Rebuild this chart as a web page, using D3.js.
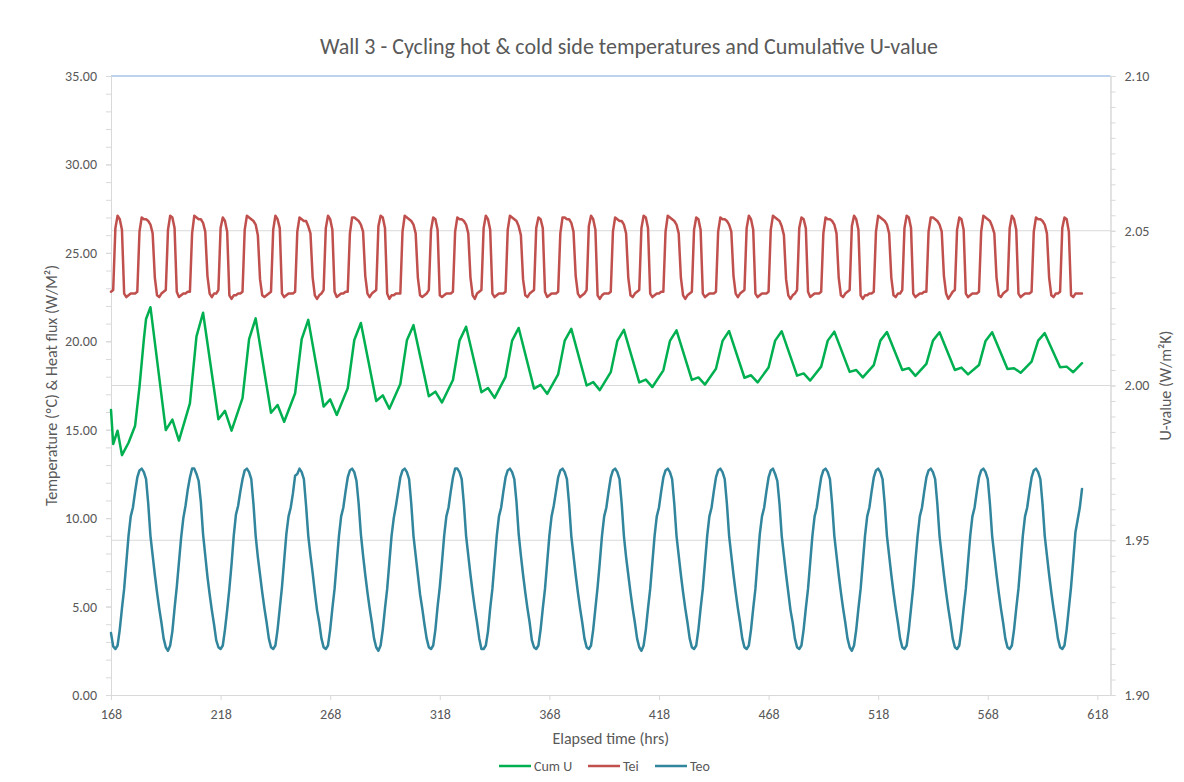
<!DOCTYPE html>
<html>
<head>
<meta charset="utf-8">
<script src="https://cdn.jsdelivr.net/npm/d3@7/dist/d3.min.js"></script>
<style>
  body { margin: 0; background: #fff; }
  svg text { font-family: Calibri, Carlito, Lato, "Liberation Sans", sans-serif; fill: #595959; }
</style>
</head>
<body>
<svg id="chart" width="1184" height="782"></svg>
<script>
// hourly samples, 168 .. 611 hrs
const hours = d3.range(168, 612);

// inside surface temperature (ºC), one row per day starting 168, 192, ...
const tei = [
  22.8, 22.9, 26.4, 27.1, 26.9, 26.3, 22.7, 22.5, 22.6, 22.7, 22.7, 22.7, 22.8, 26.2, 27.0, 26.9, 26.9, 26.8, 26.6, 26.1, 23.6, 22.6, 22.5, 22.7,
  22.8, 22.9, 26.3, 27.1, 27.0, 26.4, 22.8, 22.5, 22.6, 22.7, 22.7, 22.8, 22.8, 26.1, 27.1, 27.0, 26.9, 26.9, 26.7, 26.2, 23.7, 22.7, 22.5, 22.7,
  22.7, 22.9, 26.4, 27.0, 26.8, 26.2, 22.6, 22.4, 22.6, 22.6, 22.7, 22.7, 22.8, 26.3, 27.1, 27.0, 26.9, 26.8, 26.6, 26.0, 23.5, 22.6, 22.5, 22.6,
  22.7, 22.8, 26.3, 27.1, 26.9, 26.4, 22.7, 22.5, 22.6, 22.7, 22.7, 22.7, 22.8, 26.2, 27.0, 26.9, 26.8, 26.8, 26.5, 26.1, 23.6, 22.6, 22.4, 22.6,
  22.7, 22.9, 26.4, 27.1, 26.9, 26.3, 22.8, 22.5, 22.6, 22.7, 22.7, 22.8, 22.8, 26.1, 27.0, 27.0, 26.9, 26.8, 26.6, 26.2, 23.7, 22.7, 22.5, 22.7,
  22.8, 22.9, 26.5, 27.1, 27.0, 26.4, 22.7, 22.4, 22.6, 22.6, 22.7, 22.7, 22.7, 26.2, 27.1, 27.0, 26.9, 26.8, 26.6, 26.1, 23.6, 22.6, 22.5, 22.6,
  22.7, 22.9, 26.3, 27.0, 26.9, 26.3, 22.6, 22.5, 22.6, 22.7, 22.7, 22.7, 22.8, 26.2, 27.0, 26.9, 26.9, 26.8, 26.6, 26.1, 23.6, 22.6, 22.4, 22.7,
  22.8, 22.9, 26.4, 27.1, 26.9, 26.3, 22.7, 22.5, 22.6, 22.7, 22.7, 22.7, 22.8, 26.3, 27.1, 27.0, 26.9, 26.8, 26.5, 26.0, 23.5, 22.6, 22.5, 22.7,
  22.8, 22.9, 26.4, 27.0, 26.9, 26.4, 22.8, 22.5, 22.6, 22.7, 22.7, 22.7, 22.8, 26.1, 27.0, 27.0, 26.9, 26.9, 26.7, 26.2, 23.7, 22.7, 22.5, 22.6,
  22.7, 22.9, 26.5, 27.1, 26.9, 26.3, 22.6, 22.4, 22.6, 22.7, 22.7, 22.7, 22.8, 26.2, 27.0, 26.9, 26.8, 26.8, 26.6, 26.1, 23.6, 22.6, 22.5, 22.7,
  22.8, 22.9, 26.4, 27.1, 27.0, 26.4, 22.7, 22.5, 22.6, 22.7, 22.7, 22.8, 22.8, 26.2, 27.1, 27.0, 26.9, 26.8, 26.6, 26.1, 23.6, 22.6, 22.4, 22.6,
  22.7, 22.8, 26.3, 27.0, 26.9, 26.3, 22.7, 22.5, 22.6, 22.7, 22.7, 22.7, 22.8, 26.2, 27.0, 26.9, 26.9, 26.8, 26.6, 26.2, 23.7, 22.7, 22.5, 22.7,
  22.8, 22.9, 26.4, 27.1, 26.9, 26.3, 22.7, 22.5, 22.6, 22.7, 22.7, 22.7, 22.8, 26.3, 27.1, 27.0, 26.9, 26.8, 26.5, 26.0, 23.5, 22.6, 22.4, 22.6,
  22.7, 22.9, 26.4, 27.0, 26.9, 26.4, 22.8, 22.5, 22.6, 22.7, 22.7, 22.7, 22.8, 26.1, 27.0, 26.9, 26.9, 26.8, 26.6, 26.1, 23.6, 22.6, 22.5, 22.7,
  22.8, 22.9, 26.5, 27.1, 26.9, 26.3, 22.6, 22.4, 22.6, 22.6, 22.7, 22.7, 22.8, 26.2, 27.1, 27.0, 26.9, 26.8, 26.6, 26.1, 23.6, 22.6, 22.5, 22.7,
  22.7, 22.9, 26.4, 27.1, 27.0, 26.4, 22.7, 22.5, 22.6, 22.7, 22.7, 22.8, 22.8, 26.2, 27.0, 27.0, 26.9, 26.8, 26.6, 26.2, 23.7, 22.7, 22.4, 22.6,
  22.8, 22.9, 26.3, 27.0, 26.9, 26.3, 22.7, 22.5, 22.6, 22.7, 22.7, 22.7, 22.8, 26.2, 27.1, 27.0, 26.9, 26.8, 26.5, 26.1, 23.6, 22.6, 22.5, 22.7,
  22.8, 22.9, 26.4, 27.1, 26.9, 26.3, 22.7, 22.5, 22.6, 22.7, 22.7, 22.7, 22.8, 26.2, 27.0, 26.9, 26.9, 26.8, 26.6, 26.1, 23.6, 22.6, 22.5, 22.7,
  22.7, 22.8, 26.4, 27.0, 26.9, 26.2, 22.6, 22.5, 22.7, 22.7, 22.7, 22.7
];

// outside surface temperature (ºC): 168, 169, then one row per cycle from 170, 194, ...
const teo = [
  3.5, 2.75,
  2.6, 2.8, 3.7, 4.9, 6.0, 7.5, 9.0, 10.1, 10.6, 11.5, 12.3, 12.7, 12.8, 12.6, 12.2, 10.8, 9.0, 7.9, 6.8, 5.8, 4.9, 4.1, 3.2, 2.7,
  2.5, 2.8, 3.6, 4.9, 6.1, 7.5, 8.9, 10.0, 10.7, 11.6, 12.3, 12.8, 12.8, 12.5, 12.1, 10.9, 9.1, 7.9, 6.7, 5.7, 4.8, 4.0, 3.1, 2.7,
  2.6, 2.8, 3.7, 4.8, 6.0, 7.4, 9.0, 10.2, 10.7, 11.5, 12.2, 12.7, 12.8, 12.6, 12.2, 10.8, 9.0, 7.8, 6.8, 5.8, 4.9, 4.1, 3.2, 2.7,
  2.6, 2.8, 3.7, 4.9, 6.1, 7.6, 9.1, 10.1, 10.6, 11.4, 12.4, 12.5, 12.8, 12.6, 12.2, 10.7, 9.0, 7.9, 6.9, 5.8, 4.8, 4.1, 3.2, 2.7,
  2.6, 2.8, 3.7, 4.9, 6.0, 7.5, 9.0, 10.1, 10.6, 11.5, 12.3, 12.7, 12.8, 12.6, 12.1, 10.8, 9.1, 7.9, 6.8, 5.8, 4.9, 4.1, 3.2, 2.7,
  2.5, 2.8, 3.7, 4.9, 6.0, 7.5, 9.0, 10.0, 10.7, 11.5, 12.3, 12.7, 12.8, 12.6, 12.2, 10.8, 9.0, 7.9, 6.8, 5.7, 4.9, 4.0, 3.2, 2.7,
  2.6, 2.8, 3.7, 5.0, 6.1, 7.5, 9.0, 10.1, 10.6, 11.5, 12.3, 12.8, 12.8, 12.6, 12.2, 10.8, 9.0, 7.9, 6.8, 5.8, 4.9, 4.1, 3.2, 2.6,
  2.6, 2.8, 3.6, 4.9, 6.0, 7.5, 9.0, 10.1, 10.6, 11.5, 12.3, 12.7, 12.8, 12.6, 12.2, 10.9, 9.1, 7.9, 6.8, 5.8, 4.9, 4.1, 3.1, 2.7,
  2.6, 2.8, 3.7, 4.9, 6.0, 7.5, 9.0, 10.1, 10.7, 11.5, 12.3, 12.7, 12.8, 12.6, 12.2, 10.8, 9.0, 7.9, 6.8, 5.8, 4.9, 4.1, 3.2, 2.7,
  2.6, 2.8, 3.7, 4.9, 6.1, 7.5, 9.0, 10.1, 10.6, 11.5, 12.3, 12.7, 12.8, 12.6, 12.2, 10.8, 9.0, 7.8, 6.8, 5.8, 4.9, 4.1, 3.2, 2.7,
  2.5, 2.8, 3.7, 4.9, 6.0, 7.5, 9.0, 10.1, 10.6, 11.5, 12.3, 12.7, 12.8, 12.6, 12.2, 10.8, 9.0, 7.9, 6.8, 5.8, 4.9, 4.1, 3.2, 2.7,
  2.6, 2.8, 3.7, 4.9, 6.0, 7.5, 9.0, 10.1, 10.6, 11.5, 12.3, 12.7, 12.8, 12.6, 12.2, 10.8, 9.0, 7.9, 6.8, 5.8, 4.9, 4.1, 3.2, 2.7,
  2.6, 2.8, 3.7, 4.9, 6.0, 7.6, 9.1, 10.1, 10.6, 11.5, 12.3, 12.7, 12.8, 12.5, 12.1, 10.8, 9.0, 7.9, 6.8, 5.8, 4.8, 4.1, 3.2, 2.7,
  2.6, 2.8, 3.7, 4.9, 6.0, 7.5, 9.0, 10.1, 10.6, 11.5, 12.3, 12.7, 12.8, 12.6, 12.2, 10.8, 9.0, 7.9, 6.8, 5.8, 4.9, 4.1, 3.2, 2.7,
  2.5, 2.8, 3.7, 4.9, 6.0, 7.5, 9.0, 10.1, 10.6, 11.5, 12.3, 12.7, 12.8, 12.6, 12.2, 10.8, 9.0, 7.9, 6.8, 5.8, 4.9, 4.1, 3.2, 2.7,
  2.6, 2.8, 3.7, 4.9, 6.1, 7.6, 9.0, 10.1, 10.6, 11.5, 12.3, 12.7, 12.8, 12.6, 12.2, 10.8, 9.0, 7.9, 6.8, 5.8, 4.9, 4.1, 3.2, 2.7,
  2.6, 2.8, 3.7, 4.9, 6.0, 7.5, 9.0, 10.1, 10.6, 11.5, 12.3, 12.7, 12.8, 12.6, 12.2, 10.8, 9.0, 7.9, 6.8, 5.8, 4.9, 4.1, 3.2, 2.7,
  2.6, 2.8, 3.7, 4.9, 6.0, 7.5, 9.0, 10.1, 10.6, 11.5, 12.3, 12.7, 12.8, 12.6, 12.2, 10.8, 9.0, 7.9, 6.8, 5.8, 4.9, 4.1, 3.2, 2.7,
  2.6, 2.8, 3.7, 4.9, 6.1, 7.6, 9.2, 9.9, 10.6, 11.65
];

// cumulative U-value (W/m²K), read at the turning points of the curve
const cumUHours = [
  168, 169, 171, 173, 176, 179, 181, 183, 184,
  186, 193, 196, 199, 204, 207,
  210, 217, 220, 223, 228, 231,
  234, 241, 244, 247, 252, 255,
  258, 265, 268, 271, 276, 279,
  282, 289, 292, 295, 300, 303,
  306, 313, 316, 319, 324, 327,
  330, 337, 340, 343, 348, 351,
  354, 361, 364, 367, 372, 375,
  378, 385, 388, 391, 396, 399,
  402, 409, 412, 415, 420, 423,
  426, 433, 436, 439, 444, 447,
  450, 457, 460, 463, 468, 471,
  474, 481, 484, 487, 492, 495,
  498, 505, 508, 511, 516, 519,
  522, 529, 532, 535, 540, 543,
  546, 553, 556, 559, 564, 567,
  570, 577, 580, 583, 588, 591,
  594, 601, 604, 607, 611
];
const cumU = [
  1.9921, 1.9811, 1.9854, 1.9775, 1.9815, 1.9870, 1.9996, 2.0150, 2.0215,
  2.0253, 1.9856, 1.9890, 1.9822, 1.9942, 2.0159,
  2.0235, 1.9891, 1.9918, 1.9854, 1.9959, 2.0150,
  2.0217, 1.9912, 1.9937, 1.9883, 1.9975, 2.0150,
  2.0212, 1.9932, 1.9955, 1.9905, 1.9991, 2.0147,
  2.0202, 1.9950, 1.9968, 1.9925, 2.0005, 2.0146,
  2.0195, 1.9965, 1.9980, 1.9945, 2.0018, 2.0145,
  2.0190, 1.9978, 1.9992, 1.9960, 2.0028, 2.0145,
  2.0186, 1.9990, 2.0002, 1.9973, 2.0036, 2.0145,
  2.0183, 2.0000, 2.0011, 1.9985, 2.0043, 2.0144,
  2.0180, 2.0010, 2.0019, 1.9995, 2.0049, 2.0144,
  2.0178, 2.0018, 2.0026, 2.0003, 2.0054, 2.0144,
  2.0176, 2.0025, 2.0033, 2.0010, 2.0058, 2.0145,
  2.0175, 2.0032, 2.0039, 2.0016, 2.0061, 2.0145,
  2.0174, 2.0044, 2.0050, 2.0026, 2.0066, 2.0145,
  2.0173, 2.0050, 2.0056, 2.0031, 2.0070, 2.0145,
  2.0172, 2.0050, 2.0058, 2.0036, 2.0066, 2.0144,
  2.0172, 2.0053, 2.0056, 2.0041, 2.0077, 2.0145,
  2.0169, 2.0059, 2.0061, 2.0043, 2.0072
];

const xTicks = [168, 218, 268, 318, 368, 418, 468, 518, 568, 618];
const leftTicks = [0, 5, 10, 15, 20, 25, 30, 35];
const rightTicks = [1.90, 1.95, 2.00, 2.05, 2.10];

const legendItems = [
  { name: 'Cum U', color: '#00b050' },
  { name: 'Tei', color: '#c0504d' },
  { name: 'Teo', color: '#31859c' }
];

const svg = d3.select('svg#chart'),
    plotLeft = 111,
    plotRight = 1110.5,
    plotTop = 76,
    plotBottom = 695,
    axisColor = '#d9d9d9',
    lineWidth = 2.5,
    tickFont = '14px',
    titleFont = '16px';

const x = d3.scaleLinear().domain([168, 624]).range([plotLeft, plotRight]);
const yLeft = d3.scaleLinear().domain([0, 35]).range([plotBottom, plotTop]);
const yRight = d3.scaleLinear().domain([1.9, 2.1]).range([plotBottom, plotTop]);

svg.append('rect')
    .attr('width', 1184).attr('height', 782)
    .attr('fill', '#fff');

drawGrid();
drawAxes();
drawLines();
drawTitles();
drawLegend();

/**
 * Gridlines of the secondary axis
 */
function drawGrid() {
    svg.append('g').selectAll('line')
        .data([1.95, 2.00, 2.05])
        .join('line')
        .attr('x1', plotLeft).attr('x2', plotRight)
        .attr('y1', d => yRight(d)).attr('y2', d => yRight(d))
        .attr('stroke', axisColor)
        .attr('stroke-width', 1);

    // top border line
    svg.append('line')
        .attr('x1', plotLeft).attr('x2', plotRight)
        .attr('y1', yRight(2.1)).attr('y2', yRight(2.1))
        .attr('stroke', '#7aa5dc')
        .attr('stroke-width', 1);
}

function styleAxis(g) {
    g.selectAll('.domain').attr('stroke', axisColor);
    g.selectAll('.tick line').attr('stroke', axisColor);
    g.selectAll('.tick text')
        .attr('fill', '#595959')
        .style('font-size', tickFont);
}

/**
 * Draw Axes
 */
function drawAxes() {
    // left minor ticks
    svg.append('g')
        .attr('transform', `translate(${plotLeft},0)`)
        .call(d3.axisLeft(yLeft).tickValues(d3.range(0, 36, 1)).tickSize(5).tickFormat('').tickSizeOuter(0))
        .call(styleAxis);
    svg.append('g')
        .attr('transform', `translate(${plotLeft},0)`)
        .call(d3.axisLeft(yLeft).tickValues(leftTicks).tickSize(5).tickPadding(9).tickFormat(d3.format('.2f')).tickSizeOuter(0))
        .call(styleAxis);

    // right minor ticks
    svg.append('g')
        .attr('transform', `translate(${plotRight},0)`)
        .call(d3.axisRight(yRight).tickValues(d3.range(0, 41).map(i => 1.9 + i * 0.005)).tickSize(5).tickFormat('').tickSizeOuter(0))
        .call(styleAxis);
    svg.append('g')
        .attr('transform', `translate(${plotRight},0)`)
        .call(d3.axisRight(yRight).tickValues(rightTicks).tickSize(5).tickPadding(9).tickFormat(d3.format('.2f')).tickSizeOuter(0))
        .call(styleAxis);

    svg.append('g')
        .attr('transform', `translate(0,${plotBottom})`)
        .call(d3.axisBottom(x).tickValues(xTicks).tickSize(5).tickPadding(9).tickFormat(d3.format('d')).tickSizeOuter(0))
        .call(styleAxis);
}

/**
 * Draw the three series
 */
function drawLines() {
    const lineLeft = d3.line()
        .x(d => x(d[0]))
        .y(d => yLeft(d[1]));
    const lineRight = d3.line()
        .x(d => x(d[0]))
        .y(d => yRight(d[1]));

    const plot = svg.append('g')
        .attr('fill', 'none')
        .attr('stroke-width', lineWidth)
        .attr('stroke-linejoin', 'round')
        .attr('stroke-linecap', 'round');

    plot.append('path')
        .datum(hours.map((h, i) => [h, tei[i]]))
        .attr('d', lineLeft)
        .attr('stroke', legendItems[1].color);

    plot.append('path')
        .datum(hours.map((h, i) => [h, teo[i]]))
        .attr('d', lineLeft)
        .attr('stroke', legendItems[2].color);

    plot.append('path')
        .datum(cumUHours.map((h, i) => [h, cumU[i]]))
        .attr('d', lineRight)
        .attr('stroke', legendItems[0].color);
}

function drawTitles() {
    svg.append('text')
        .text('Wall 3 - Cycling hot & cold side temperatures and Cumulative U-value')
        .attr('x', 629).attr('y', 54)
        .attr('text-anchor', 'middle')
        .style('font-size', '22px');

    svg.append('text')
        .text('Elapsed time (hrs)')
        .attr('x', (plotLeft + plotRight) / 2).attr('y', 744)
        .attr('text-anchor', 'middle')
        .style('font-size', titleFont);

    svg.append('text')
        .text('Temperature (ºC) & Heat flux (W/M²)')
        .attr('transform', `translate(57,${(plotTop + plotBottom) / 2}) rotate(-90)`)
        .attr('text-anchor', 'middle')
        .style('font-size', titleFont);

    svg.append('text')
        .text('U-value (W/m²K)')
        .attr('transform', `translate(1171,${(plotTop + plotBottom) / 2}) rotate(-90)`)
        .attr('text-anchor', 'middle')
        .style('font-size', titleFont);
}

function drawLegend() {
    const positions = [499, 588, 655];
    legendItems.forEach((item, i) => {
        const lx = positions[i];
        svg.append('line')
            .attr('x1', lx).attr('x2', lx + 32)
            .attr('y1', 766).attr('y2', 766)
            .attr('stroke', item.color)
            .attr('stroke-width', lineWidth);
        svg.append('text')
            .text(item.name)
            .attr('x', lx + 35).attr('y', 771)
            .style('font-size', '14px');
    });
}
</script>
</body>
</html>
